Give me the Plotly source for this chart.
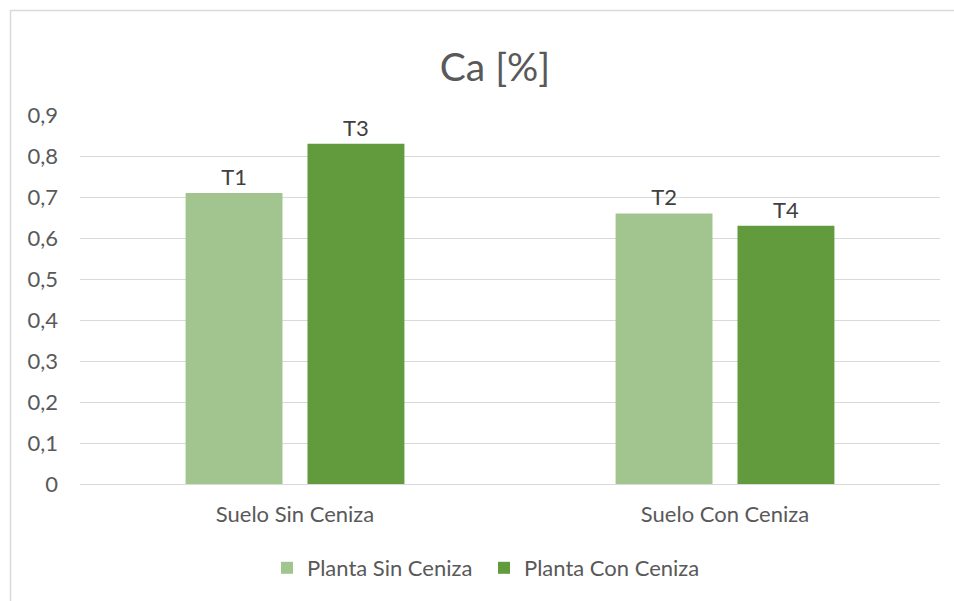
import plotly.graph_objects as go

# Soil groups on the x axis
categories = ["Suelo Sin Ceniza", "Suelo Con Ceniza"]

# Calcium content [%] per treatment
planta_sin_ceniza = [0.71, 0.66]
planta_con_ceniza = [0.83, 0.63]

# Treatment labels shown above each bar
labels_sin = ["T1", "T2"]
labels_con = ["T3", "T4"]

# Y-axis ticks
y_ticks = [0, 0.1, 0.2, 0.3, 0.4, 0.5, 0.6, 0.7, 0.8, 0.9]

LIGHT = "#A2C58F"
DARK = "#629A3E"
TEXT = "#595959"
GRID = "#D9D9D9"
FONT = "Lato, Open Sans, sans-serif"
FS = 22

fig = go.Figure()
fig.add_trace(go.Bar(
    name="Planta Sin Ceniza", x=categories, y=planta_sin_ceniza,
    marker=dict(color=LIGHT, line=dict(width=0)),
    text=labels_sin, textposition="outside", cliponaxis=False,
    textfont=dict(size=FS, color="#404040", family=FONT),
    hoverinfo="x+y",
))
fig.add_trace(go.Bar(
    name="Planta Con Ceniza", x=categories, y=planta_con_ceniza,
    marker=dict(color=DARK, line=dict(width=0)),
    text=labels_con, textposition="outside", cliponaxis=False,
    textfont=dict(size=FS, color="#404040", family=FONT),
    hoverinfo="x+y",
))

W, H = 954, 601
L, R, T, B = 80, 14, 115, 117
pw, ph = W - L - R, H - T - B

def px_x(x):
    return (x - L) / pw

def px_y(y):
    return (H - B - y) / ph

fig.update_layout(
    width=W, height=H,
    margin=dict(l=L, r=R, t=T, b=B),
    paper_bgcolor="white", plot_bgcolor="white",
    separators=",.",
    barmode="group", bargap=0.433, bargroupgap=0.205,
    font=dict(family=FONT, color=TEXT, size=FS),
    title=dict(text="Ca [%]", x=px_x(495), xref="paper", xanchor="center",
               y=1 - 67 / H, yanchor="middle",
               font=dict(size=39, color=TEXT, family=FONT)),
    showlegend=True,
    legend=dict(orientation="h", x=px_x(267), xanchor="left",
                y=px_y(568), yanchor="middle",
                entrywidth=172, entrywidthmode="pixels",
                font=dict(size=FS, color=TEXT, family=FONT),
                bgcolor="rgba(0,0,0,0)", traceorder="normal"),
    xaxis=dict(showgrid=False, showline=True, linecolor=GRID, linewidth=1,
               ticks="", tickfont=dict(size=FS, color=TEXT),
               ticklabelstandoff=11, zeroline=False),
    yaxis=dict(range=[0, 0.9], tickvals=y_ticks, showgrid=True,
               gridcolor=GRID, gridwidth=1, zeroline=False, showline=False,
               ticks="", tickfont=dict(size=FS, color=TEXT),
               ticklabelstandoff=21),
    shapes=[
        dict(type="line", xref="paper", yref="paper",
             x0=px_x(10), x1=px_x(W + 20), y0=px_y(10.5), y1=px_y(10.5),
             line=dict(color=GRID, width=1.5)),
        dict(type="line", xref="paper", yref="paper",
             x0=px_x(10.5), x1=px_x(10.5), y0=px_y(10), y1=px_y(H + 20),
             line=dict(color=GRID, width=1.5)),
    ],
)

fig.write_html("out.html")
